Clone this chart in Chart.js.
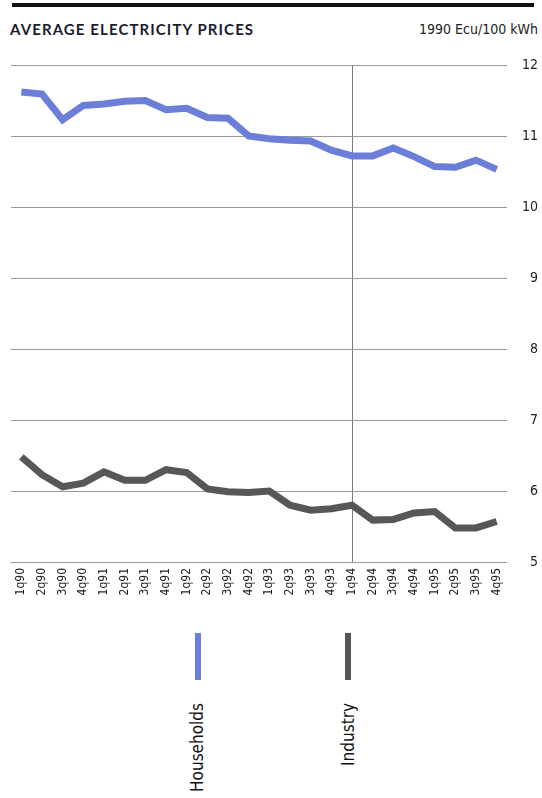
<!DOCTYPE html>
<html>
<head>
<meta charset="utf-8">
<script src="https://cdn.jsdelivr.net/npm/chart.js@4.4.1/dist/chart.umd.min.js"></script>
<style>
    body { margin: 0; background: #fff; }
    #page { position: relative; width: 542px; height: 798px; overflow: hidden; background: #fff; }
    .rule { position: absolute; left: 12px; top: 3px; width: 522px; height: 4px; background: #111; }
    .title { position: absolute; left: 10px; top: 20px; font-family: Lato, 'Open Sans', sans-serif; font-weight: 700;
             font-size: 15px; letter-spacing: 1.1px; color: #1c1c30; }
    .units { position: absolute; right: 4px; top: 21px; font-family: 'Liberation Sans Narrow', 'DejaVu Sans Condensed', sans-serif;
             font-size: 14px; color: #222; }
    #chartBox { position: absolute; left: 0; top: 0; }
    .swatch { position: absolute; top: 633px; width: 6px; height: 47px; }
    .legtext { position: absolute; top: 703px; writing-mode: vertical-rl; transform: rotate(180deg);
               font-family: 'Liberation Sans Narrow', 'DejaVu Sans Condensed', sans-serif; font-size: 17px; color: #111; line-height: 16px; }
</style>
</head>
<body>
<div id="page">
    <div class="rule"></div>
    <div class="title">AVERAGE ELECTRICITY PRICES</div>
    <div class="units">1990 Ecu/100 kWh</div>
    <canvas id="chartBox" width="542" height="612"></canvas>
    <div class="swatch" style="left:195px; background:#6b7fd9;"></div>
    <div class="legtext" style="left:189px;">Households</div>
    <div class="swatch" style="left:345px; background:#575757;"></div>
    <div class="legtext" style="left:340px;">Industry</div>
</div>
<script>
// quarters 1990-1995
const quarters = ['1q90','2q90','3q90','4q90','1q91','2q91','3q91','4q91',
                  '1q92','2q92','3q92','4q92','1q93','2q93','3q93','4q93',
                  '1q94','2q94','3q94','4q94','1q95','2q95','3q95','4q95'];

// 1990 Ecu per 100 kWh
const households = [11.62, 11.59, 11.23, 11.43, 11.45, 11.49, 11.50, 11.37,
                    11.39, 11.26, 11.25, 11.00, 10.96, 10.94, 10.93, 10.80,
                    10.72, 10.72, 10.83, 10.71, 10.57, 10.56, 10.66, 10.53];
const industry = [6.48, 6.23, 6.06, 6.11, 6.27, 6.15, 6.15, 6.30,
                  6.26, 6.03, 5.99, 5.98, 6.00, 5.80, 5.73, 5.75,
                  5.80, 5.59, 5.60, 5.69, 5.71, 5.48, 5.48, 5.57];

const yTicks = [5, 6, 7, 8, 9, 10, 11, 12];
const markerLabel = '1q94';

const narrow = "'Liberation Sans Narrow', 'DejaVu Sans Condensed', sans-serif";

new Chart(document.getElementById('chartBox'), {
    type: 'line',
    data: {
        labels: quarters,
        datasets: [{
            label: 'Households',
            data: households,
            borderColor: '#6b7fd9',
            borderWidth: 7,
            pointRadius: 0,
            tension: 0
        }, {
            label: 'Industry',
            data: industry,
            borderColor: '#575757',
            borderWidth: 7,
            pointRadius: 0,
            tension: 0
        }]
    },
    options: {
        responsive: false,
        animation: false,
        devicePixelRatio: 1,
        layout: { padding: { top: 65, left: 11, right: 4, bottom: 0 } },
        plugins: { legend: { display: false }, tooltip: { enabled: false } },
        scales: {
            x: {
                offset: true,
                border: { display: false },
                grid: {
                    offset: false,
                    drawTicks: false,
                    lineWidth: 1,
                    color: function(ctx) {
                        return quarters[ctx.index] === markerLabel ? '#7a7a7a' : 'rgba(0,0,0,0)';
                    }
                },
                ticks: {
                    autoSkip: false,
                    minRotation: 90,
                    maxRotation: 90,
                    padding: 6,
                    color: '#222',
                    font: { family: narrow, size: 12 }
                },
                afterFit: function(scale) { scale.height = 50; }
            },
            y: {
                position: 'right',
                min: yTicks[0],
                max: yTicks[yTicks.length - 1],
                border: { display: false },
                grid: { color: '#999', lineWidth: 1, drawTicks: false },
                afterBuildTicks: function(scale) {
                    scale.ticks = yTicks.map(v => ({ value: v }));
                },
                ticks: {
                    crossAlign: 'far',
                    color: '#222',
                    font: { family: narrow, size: 14 }
                },
                afterFit: function(scale) { scale.width = 31; }
            }
        }
    }
});
</script>
</body>
</html>
